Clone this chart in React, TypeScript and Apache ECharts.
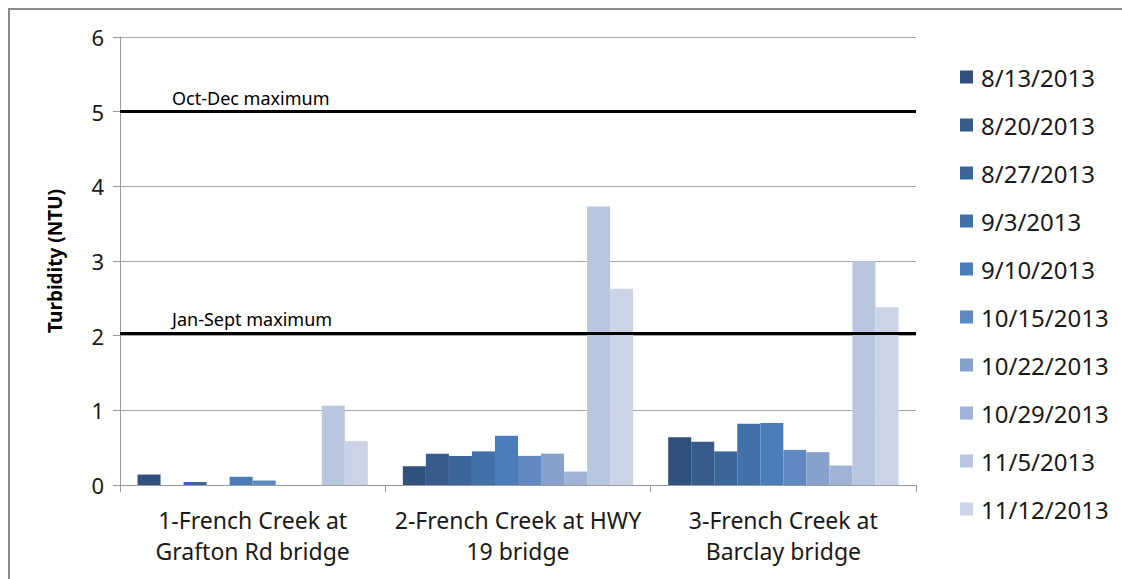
import React, { useEffect, useRef } from "react";
import * as echarts from "echarts";

const categories = [
  "1-French Creek at\nGrafton Rd bridge",
  "2-French Creek at HWY\n19 bridge",
  "3-French Creek at\nBarclay bridge",
];
const dates = [
  "8/13/2013",
  "8/20/2013",
  "8/27/2013",
  "9/3/2013",
  "9/10/2013",
  "10/15/2013",
  "10/22/2013",
  "10/29/2013",
  "11/5/2013",
  "11/12/2013",
];
const v0813 = [0.14, 0.25, 0.64];
const v0820 = [0, 0.42, 0.58];
const v0827 = [0.04, 0.39, 0.45];
const v0903 = [0, 0.45, 0.82];
const v0910 = [0.11, 0.66, 0.83];
const v1015 = [0.06, 0.39, 0.47];
const v1022 = [0, 0.42, 0.44];
const v1029 = [0, 0.18, 0.26];
const v1105 = [1.06, 3.73, 3.0];
const v1112 = [0.59, 2.63, 2.38];
const seriesValues = [v0813, v0820, v0827, v0903, v0910, v1015, v1022, v1029, v1105, v1112];
const colors = [
  "#30517B",
  "#375C8B",
  "#3C669A",
  "#4270A8",
  "#4A7DBA",
  "#6089C1",
  "#87A1CD",
  "#A1B3D6",
  "#B9C6E0",
  "#CBD4E6",
];
const yTicks = [0, 1, 2, 3, 4, 5, 6];
const octDecMax = 5;
const janSeptMax = 2.03;

const FONT = "Noto Sans";

export default function App() {
  const ref = useRef<HTMLDivElement>(null);
  useEffect(() => {
    if (!ref.current) return;
    const chart = echarts.init(ref.current, null, { renderer: "svg" });
    const series: any[] = seriesValues.map((vals, i) => ({
      name: dates[i],
      type: "bar",
      data: vals,
      barGap: "0%",
      barCategoryGap: "13.2%",
      itemStyle: { color: colors[i] },
    }));
    series[0].markLine = {
      silent: true,
      symbol: "none",
      lineStyle: { color: "#000", width: 3, type: "solid" },
      label: {
        show: true,
        position: "insideStartTop",
        color: "#000",
        fontFamily: FONT,
        fontSize: 18,
        padding: [0, 0, 0, 47],
      },
      data: [
        { yAxis: octDecMax, label: { formatter: "Oct-Dec maximum" } },
        { yAxis: janSeptMax, label: { formatter: "Jan-Sept maximum" } },
      ],
    };
    chart.setOption({
      animation: false,
      textStyle: { fontFamily: FONT },
      color: colors,
      graphic: [
        {
          type: "polyline",
          shape: { points: [[9, 579], [9, 9], [1122, 9]] },
          style: { stroke: "#8a8a8a", lineWidth: 2, fill: "none" },
        },
      ],
      grid: { left: 120, right: 206, top: 37, bottom: 94 },
      legend: {
        orient: "vertical",
        left: 955,
        top: 60,
        itemWidth: 13,
        itemHeight: 13,
        itemGap: 24,
        icon: "rect",
        data: dates,
        textStyle: {
          fontFamily: FONT,
          fontSize: 24,
          color: "#1a1a1a",
          lineHeight: 24,
          padding: [0, 0, 0, 3],
        },
      },
      xAxis: {
        type: "category",
        data: categories,
        axisLine: { show: true, lineStyle: { color: "#9a9a9a", width: 1 } },
        axisTick: { show: true, length: 7, lineStyle: { color: "#9a9a9a" } },
        axisLabel: {
          interval: 0,
          margin: 19,
          color: "#1a1a1a",
          fontFamily: FONT,
          fontSize: 23,
          lineHeight: 31,
        },
      },
      yAxis: {
        type: "value",
        min: yTicks[0],
        max: yTicks[yTicks.length - 1],
        interval: 1,
        name: "Turbidity (NTU)",
        nameLocation: "middle",
        nameGap: 56,
        nameTextStyle: { fontFamily: FONT, fontSize: 19, fontWeight: "bold", color: "#000" },
        axisLine: { show: true, lineStyle: { color: "#9a9a9a", width: 1 } },
        axisTick: { show: true, length: 7, lineStyle: { color: "#9a9a9a" } },
        axisLabel: { margin: 16, color: "#1a1a1a", fontFamily: FONT, fontSize: 22 },
        splitLine: { show: true, lineStyle: { color: "#a6a6a6", width: 1 } },
      },
      series,
    });
    return () => chart.dispose();
  }, []);
  return (
    <div
      ref={ref}
      style={{ position: "fixed", left: 0, top: 0, width: 1122, height: 579, background: "#fff" }}
    />
  );
}
